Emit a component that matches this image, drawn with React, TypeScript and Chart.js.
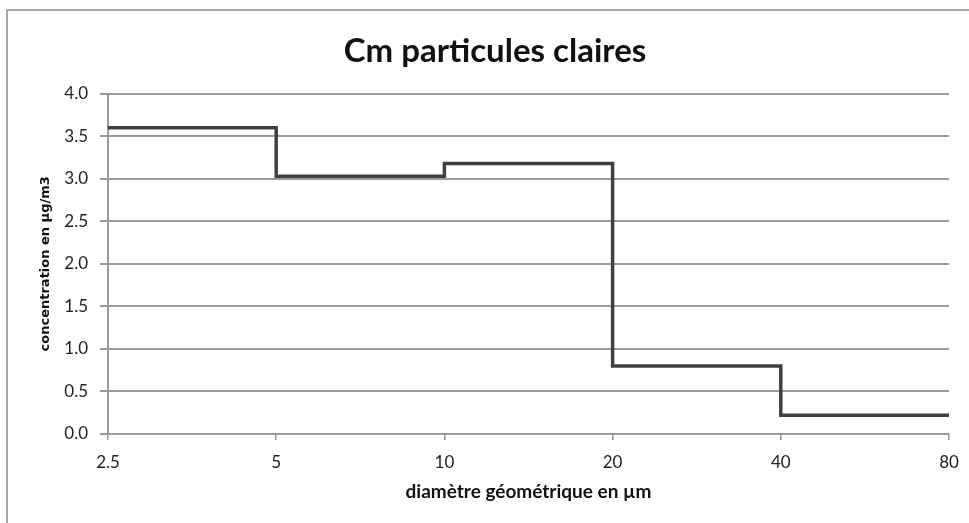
import React, { useEffect, useRef } from "react";
import { Chart, registerables } from "chart.js";

Chart.register(...registerables);

const categories = ["2.5", "5", "10", "20", "40", "80"];
const stepValues = [3.6, 3.03, 3.18, 0.8, 0.22, 0.22];
const yTicks = [0, 0.5, 1, 1.5, 2, 2.5, 3, 3.5, 4];
const chartTitle = "Cm particules claires";
const xTitle = "diamètre géométrique en µm";
const yTitle = "concentration en µg/m3";

export default function App() {
  const ref = useRef<HTMLCanvasElement | null>(null);

  useEffect(() => {
    document.body.style.margin = "0";
    document.body.style.overflow = "hidden";
    const canvas = ref.current!;
    const chart = new Chart(canvas, {
      type: "line",
      data: {
        datasets: [
          {
            data: stepValues.map((v, i) => ({ x: i, y: v })),
            borderColor: "#404040",
            borderWidth: 3.5,
            pointRadius: 0,
            stepped: "before",
            fill: false,
            yAxisID: "y",
          },
        ],
      },
      options: {
        animation: false,
        responsive: false,
        devicePixelRatio: 1,
        layout: { padding: { left: 0, right: 0, top: 0, bottom: 0 } },
        plugins: {
          legend: { display: false },
          tooltip: { enabled: false },
          title: {
            display: true,
            text: chartTitle,
            color: "#111",
            font: { family: "Lato", size: 33, weight: "bold" },
            padding: { top: 32, bottom: 22 },
          },
        },
        scales: {
          x: {
            type: "linear",
            min: 0,
            max: categories.length - 1,
            afterFit: (s: any) => {
              s.height = 89;
            },
            afterBuildTicks: (s: any) => {
              s.ticks = categories.map((_, i) => ({ value: i }));
            },
            ticks: {
              callback: (v: any) => categories[v as number] ?? "",
              color: "#222",
              font: { family: "Lato", size: 17 },
              padding: 12,
              autoSkip: false,
              maxRotation: 0,
            },
            grid: {
              drawOnChartArea: false,
              drawTicks: true,
              tickLength: 6,
              color: "#9a9a9a",
              lineWidth: 1.5,
            },
            border: { color: "#9a9a9a", width: 2 },
            title: {
              display: true,
              text: xTitle,
              color: "#111",
              font: { family: "Lato", size: 19, weight: "bold" },
              padding: { top: 0, bottom: 20 },
            },
          },
          y: {
            min: 0,
            max: 4,
            afterFit: (s: any) => {
              s.width = 108;
            },
            afterBuildTicks: (s: any) => {
              s.ticks = yTicks.map((v) => ({ value: v }));
            },
            ticks: {
              callback: (v: any) => Number(v).toFixed(1),
              color: "#222",
              font: { family: "Lato", size: 17 },
              padding: 12,
            },
            grid: {
              color: "#9a9a9a",
              lineWidth: 2,
              tickLength: 8,
            },
            border: { color: "#9a9a9a", width: 2 },
            title: {
              display: true,
              text: yTitle,
              color: "#111",
              font: { family: "DejaVu Sans", size: 13, weight: "bold" },
              padding: { top: 38, bottom: 0 },
            },
          },
          yRight: {
            position: "right",
            min: 0,
            max: 4,
            afterFit: (s: any) => {
              s.width = 41;
            },
            ticks: { display: false },
            grid: { display: false, drawTicks: false },
            border: { display: false },
            title: { display: false },
          },
        },
      },
    });
    return () => chart.destroy();
  }, []);

  return (
    <div style={{ position: "fixed", left: 0, top: 0, width: 969, height: 523, overflow: "hidden", background: "#fff" }}>
      <div
        style={{
          position: "absolute",
          left: 6,
          top: 9,
          width: 1000,
          height: 600,
          borderLeft: "2px solid #a8a8a8",
          borderTop: "2px solid #a8a8a8",
        }}
      />
      <canvas ref={ref} width={990} height={523} style={{ position: "absolute", left: 0, top: 0 }} />
    </div>
  );
}
